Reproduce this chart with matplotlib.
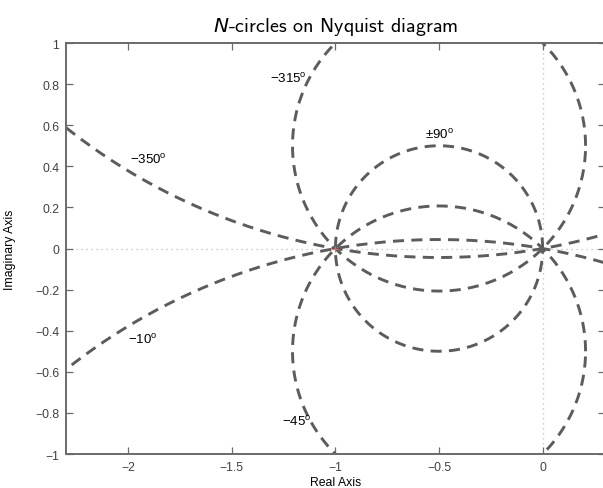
import numpy as np
import matplotlib
matplotlib.use('Agg')
import matplotlib.pyplot as plt

plt.rcParams['font.family'] = ['Liberation Sans', 'DejaVu Sans']
plt.rcParams['mathtext.fontset'] = 'custom'
plt.rcParams['mathtext.rm'] = 'Liberation Sans'
plt.rcParams['mathtext.it'] = 'DejaVu Sans:italic'

# closed-loop phase angles (deg) for the constant-N circles
phases = [-10, -45, -90, -315, -350]
labels = ['−10', '−45', '±90', '−315', '−350']
# where each label sits (real, imag)
label_pos = [(-2.0, -0.44), (-1.118, -0.84), (-0.5, 0.56), (-1.138, 0.83), (-1.99, 0.435)]
label_ha = ['left', 'right', 'center', 'right', 'left']

x_ticks = [-2, -1.5, -1, -0.5, 0]
y_ticks = [-1, -0.8, -0.6, -0.4, -0.2, 0, 0.2, 0.4, 0.6, 0.8, 1]

fig = plt.figure(figsize=(6.03, 4.89), dpi=100)
ax = fig.add_axes([0.1095, 0.0695, 0.8935, 0.8405])

line_col = '#5c5c5c'
t = np.linspace(0, 2 * np.pi, 1500)
for ph in phases:
    # circle through -1 and 0: centre (-1/2, 1/(2 tan N)), radius 1/(2|sin N|)
    phi = np.radians(ph)
    yc = 0.5 / np.tan(phi) if abs(np.tan(phi)) < 1e12 else 0.0
    r = 0.5 / abs(np.sin(phi))
    ax.plot(-0.5 + r * np.cos(t), yc + r * np.sin(t), color=line_col,
            lw=2.1, dashes=(3.8, 2.5))

for lab, (lx, ly), ha in zip(labels, label_pos, label_ha):
    ax.text(lx, ly, lab + r'$^{\rm o}$', fontsize=9.5, ha=ha, va='center', color='black')

# real and imaginary axes
ax.axhline(0, color='#bdbdbd', lw=0.9, ls=(0, (1, 3)), zorder=0)
ax.axvline(0, color='#bdbdbd', lw=0.9, ls=(0, (1, 3)), zorder=0)
ax.plot([-1], [0], marker='+', color='#ff6060', ms=4, mew=0.8)

ax.set_xlim(-2.3, 0.3)
ax.set_ylim(-1, 1)
ax.set_xticks(x_ticks)
ax.set_xticklabels(['−2', '−1.5', '−1', '−0.5', '0'])
ax.set_yticks(y_ticks)
ax.set_yticklabels(['−1', '−0.8', '−0.6', '−0.4', '−0.2', '0', '0.2', '0.4', '0.6', '0.8', '1'])
ax.tick_params(direction='in', top=True, right=True, length=5, width=0.9,
               labelsize=8.8, colors='#6a6a6a', labelcolor='#404040', pad=5)
for s in ax.spines.values():
    s.set_color('#6a6a6a')
    s.set_linewidth(1.4)

ax.set_xlabel('Real Axis', fontsize=8.8, labelpad=2)
ax.set_ylabel('Imaginary Axis', fontsize=8.8, labelpad=14)
ax.set_title(r'$N$-circles on Nyquist diagram', fontsize=14.5, pad=9,
             fontfamily=['cmss10', 'DejaVu Sans'])

fig.savefig('out.png', dpi=100)
